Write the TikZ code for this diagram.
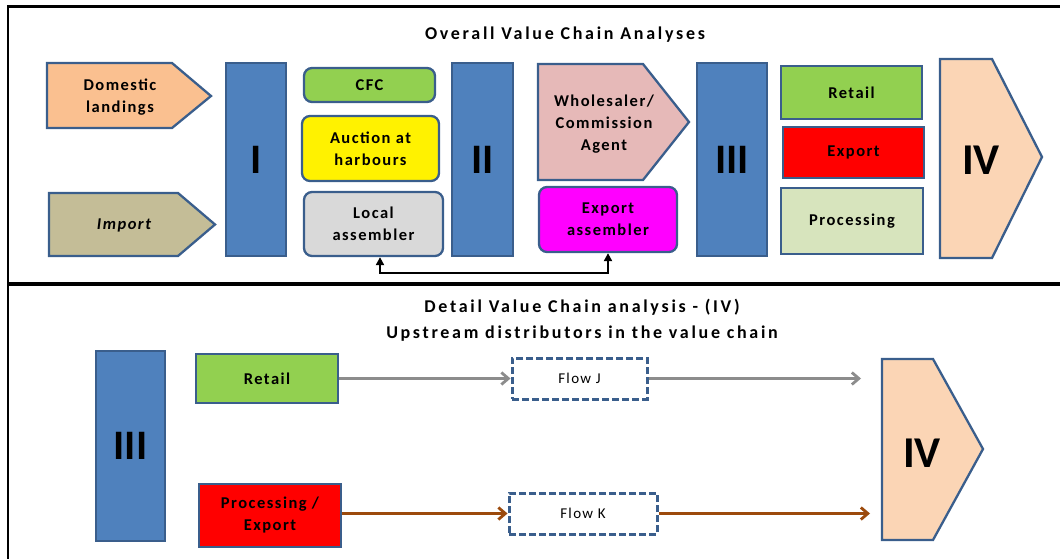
\documentclass[tikz,border=0pt]{standalone}
\usepackage{fontspec}
\setmainfont{Carlito}
\newfontfamily\spaced{Carlito}[LetterSpace=9]
\newfontfamily\titlefont{Carlito}[LetterSpace=15]
\usetikzlibrary{arrows.meta}

\definecolor{blockfill}{HTML}{4F81BD}
\definecolor{blockline}{HTML}{3A5E8C}
\definecolor{domfill}{HTML}{FAC090}
\definecolor{impfill}{HTML}{C4BD97}
\definecolor{greenfill}{HTML}{92D050}
\definecolor{greyfill}{HTML}{D9D9D9}
\definecolor{wholefill}{HTML}{E6B9B8}
\definecolor{magentafill}{HTML}{FF00FF}
\definecolor{procfill}{HTML}{D7E4BD}
\definecolor{ivfill}{HTML}{FBD5B5}
\definecolor{flowgrey}{HTML}{8C8C8C}
\definecolor{flowbrown}{HTML}{9C4A0C}

\tikzset{
  lbl/.style={font=\spaced\bfseries\fontsize{16.5}{22}\selectfont, align=center, text=black},
  roman/.style={font=\bfseries\fontsize{42}{42}\selectfont, text=black},
  block/.style={draw=blockline, line width=2.3pt, fill=blockfill, inner sep=0pt, roman},
  box/.style={draw=blockline, line width=2.3pt, inner sep=0pt, lbl},
  rbox/.style={box, rounded corners=8pt},
  pent/.style={draw=blockline, line width=2.3pt, line join=miter},
  flowbox/.style={draw=blockline, line width=3pt, dash pattern=on 7pt off 3pt, fill=white,
    inner sep=0pt, font=\spaced\fontsize{15}{17}\selectfont},
  frame/.style={draw=black},
  link/.style={draw=black, line width=2.7pt, {Triangle[length=8pt,width=8pt]}-{Triangle[length=8pt,width=8pt]}},
  flow/.style={line width=2.8pt, -{Straight Barb[length=7pt,width=12pt,line width=2.8pt]}},
  heading/.style={font=\titlefont\bfseries\fontsize{18}{26}\selectfont, align=center, text=black}
}

\begin{document}
\begin{tikzpicture}[x=1pt,y=-1pt]
\useasboundingbox (0,0) rectangle (1060,559);

% outer frame and the divider between the two panels
\draw[frame, line width=2.5pt] (1060,6.5) -- (8,6.5) -- (8,559);
\draw[frame, line width=3.2pt] (8,284) -- (1060,284);

% ---------- upper panel: overall chain ----------
\node[heading] (title1) at (565,35) {Overall Value Chain Analyses};

% arrow-shaped sources
\fill[domfill] (47,63) -- (172,63) -- (211,96) -- (172,128) -- (47,128) -- cycle;
\draw[pent] (47,63) -- (172,63) -- (211,96) -- (172,128) -- (47,128) -- cycle;
\node[lbl] (dom) at (120,97.5) {Domestic\\landings};

\fill[impfill] (49,193) -- (178,193) -- (215,224.5) -- (178,256) -- (49,256) -- cycle;
\draw[pent] (49,193) -- (178,193) -- (215,224.5) -- (178,256) -- (49,256) -- cycle;
\node[lbl, font=\spaced\bfseries\itshape\fontsize{16.5}{22}\selectfont] (imp) at (124,225) {Import};

% stage bars
\node[block, minimum width=60, minimum height=193] (s1) at (256,159.5) {I};
\node[block, minimum width=61, minimum height=193] (s2) at (482.5,159.5) {II};
\node[block, minimum width=70, minimum height=193] (s3) at (732,159.5) {III};

% first-hand buyers
\node[rbox, fill=greenfill, minimum width=131, minimum height=34] (cfc) at (369.5,85) {CFC};
\node[rbox, fill=yellow, minimum width=137, minimum height=65] (auction) at (370.5,148.5) {Auction at\\harbours};
\node[rbox, fill=greyfill, minimum width=139, minimum height=64] (local) at (373.5,224) {Local\\assembler};

% wholesale level
\fill[wholefill] (538,64) -- (643,64) -- (689,122) -- (643,180) -- (538,180) -- cycle;
\draw[pent] (538,64) -- (643,64) -- (689,122) -- (643,180) -- (538,180) -- cycle;
\node[lbl] (whole) at (604,124.5) {Wholesaler/\\Commission\\Agent};

\node[rbox, fill=magentafill, minimum width=138, minimum height=65] (expasm) at (608,219.5) {Export\\assembler};

% link between the two assemblers
\coordinate (l1) at (380,273);
\coordinate (l2) at (608,273);
\draw[link] (local.south -| l1) -- (l1) -- (l2) -- (expasm.south -| l2);

% distribution channels
\node[box, fill=greenfill, minimum width=141, minimum height=53] (retail) at (851.5,92.5) {Retail};
\node[box, fill=red, minimum width=141, minimum height=51] (export) at (853.5,152.5) {Export};
\node[box, fill=procfill, minimum width=142, minimum height=66] (proc) at (852,221) {Processing};

% end of chain
\fill[ivfill] (940,59) -- (992,59) -- (1042,157) -- (992,258) -- (940,258) -- cycle;
\draw[pent] (940,59) -- (992,59) -- (1042,157) -- (992,258) -- (940,258) -- cycle;
\node[roman, font=\bfseries\fontsize{44}{44}\selectfont] (iv1) at (981,160) {IV};

% ---------- lower panel: detail of stage IV ----------
\node[heading] (title2) at (582,320) {Detail Value Chain analysis - (IV)\\Upstream distributors in the value chain};

\node[block, minimum width=69, minimum height=190] (s3b) at (130.5,446) {III};

\node[box, fill=greenfill, minimum width=142, minimum height=49] (retail2) at (267,378.5) {Retail};
\node[box, fill=red, minimum width=142, minimum height=63] (procexp) at (270,515.5) {Processing /\\Export};

\node[flowbox, minimum width=135, minimum height=41] (flowj) at (579.5,378.5) {Flow J};
\node[flowbox, minimum width=148, minimum height=41] (flowk) at (583,513.5) {Flow K};

\coordinate (endj) at (861,378.5);
\coordinate (endk) at (870,513.5);

\draw[flow, flowgrey] (retail2.east) -- (flowj.west);
\draw[flow, flowgrey] (flowj.east) -- (endj);
\draw[flow, flowbrown] (procexp.east |- flowk.west) -- (flowk.west);
\draw[flow, flowbrown] (flowk.east) -- (endk);

\fill[ivfill] (882,359) -- (933,359) -- (983,449) -- (933,540) -- (882,540) -- cycle;
\draw[pent] (882,359) -- (933,359) -- (983,449) -- (933,540) -- (882,540) -- cycle;
\node[roman, font=\bfseries\fontsize{44}{44}\selectfont] (iv2) at (922,453) {IV};
\end{tikzpicture}
\end{document}
